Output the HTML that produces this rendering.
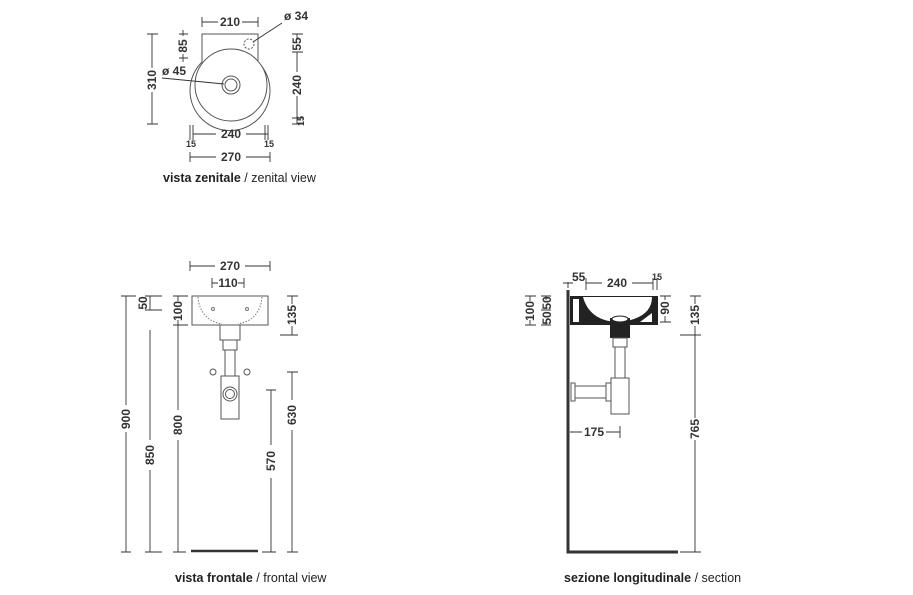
<!DOCTYPE html>
<html><head><meta charset="utf-8"><style>
html,body{margin:0;padding:0;background:#fff;}
svg{display:block;font-family:"Liberation Sans",sans-serif;}
.d{stroke:#333;stroke-width:0.9;fill:none}
.t{font-size:12px;font-weight:bold;fill:#333}
.s{font-size:9px;font-weight:bold;fill:#333}
.o{stroke:#555;stroke-width:1;fill:#fff}
</style></head><body>
<svg width="913" height="595" viewBox="0 0 913 595">
<!-- ===== TOP VIEW ===== -->
<path class="o" d="M202 34 H258 V62 A40 40 0 1 1 202 62 Z"/>
<circle cx="231" cy="85" r="36" class="o"/>
<circle cx="231" cy="85" r="9" class="o" stroke-width="1.3"/>
<circle cx="231" cy="85" r="6" class="o"/>
<circle cx="249" cy="44" r="5" fill="none" stroke="#555" stroke-dasharray="2,1.5"/>
<!-- 210 -->
<g class="d"><path d="M202 22 H218 M242 22 H258 M202 17 V27 M258 17 V27"/></g>
<text x="230" y="26" class="t" text-anchor="middle">210</text>
<text x="284" y="20" class="t">ø 34</text>
<path class="d" d="M282 23 L253 42"/>
<!-- 310 -->
<g class="d"><path d="M152 34 V68 M152 92 V124 M147 34 H158 M147 124 H158"/></g>
<text transform="translate(156,80) rotate(-90)" class="t" text-anchor="middle">310</text>
<!-- 85 -->
<g class="d"><path d="M183 30 V36 M183 54 V62 M179 34 H188 M179 58 H188"/></g>
<text transform="translate(187,46) rotate(-90)" class="t" text-anchor="middle">85</text>
<text x="162" y="75" class="t">ø 45</text>
<path class="d" d="M162 78 L224 84"/>
<!-- right -->
<g class="d"><path d="M297 34 V38 M297 52 V72 M297 96 V124 M292 34 H303 M292 52 H303 M292 118 H303 M292 124 H303"/></g>
<text transform="translate(301,44) rotate(-90)" class="t" text-anchor="middle">55</text>
<text transform="translate(301,85) rotate(-90)" class="t" text-anchor="middle">240</text>
<text transform="translate(304,121) rotate(-90)" class="s" text-anchor="middle">15</text>
<!-- bottom -->
<g class="d"><path d="M193 134 H216 M246 134 H268 M190 125 V140 M193 125 V140 M265 125 V140 M268 125 V140"/></g>
<text x="231" y="138" class="t" text-anchor="middle">240</text>
<text x="191" y="147" class="s" text-anchor="middle">15</text>
<text x="269" y="147" class="s" text-anchor="middle">15</text>
<g class="d"><path d="M190 157 H216 M246 157 H270 M190 152 V162 M270 152 V162"/></g>
<text x="231" y="161" class="t" text-anchor="middle">270</text>
<text x="163" y="182" font-size="12.5" fill="#222"><tspan font-weight="bold">vista zenitale</tspan> / zenital view</text>

<!-- ===== FRONT VIEW ===== -->
<rect x="192" y="296" width="76" height="29" class="o"/>
<path d="M198 297 Q200 320 222 324 M262 297 Q260 320 238 324" fill="none" stroke="#777" stroke-dasharray="1.5,1.5"/>
<circle cx="213" cy="309" r="1.5" fill="none" stroke="#777"/><circle cx="247" cy="309" r="1.5" fill="none" stroke="#777"/>
<rect x="220" y="325" width="20" height="15" class="o"/>
<rect x="223" y="340" width="14" height="10" class="o"/>
<rect x="225" y="350" width="10" height="26" class="o"/>
<rect x="221" y="376" width="18" height="43" class="o"/>
<circle cx="230" cy="394" r="7" class="o"/><circle cx="230" cy="394" r="4.5" class="o"/>
<circle cx="213" cy="372" r="3" class="o" stroke-width="1.5"/><circle cx="247" cy="372" r="3" class="o" stroke-width="1.5"/>
<g class="d">
<path d="M190 266 H215 M245 266 H270 M190 261 V271 M270 261 V271"/>
<path d="M212 283 H218 M238 283 H244 M212 278 V288 M244 278 V288"/>
<path d="M126 296 V405 M126 432 V552 M121 296 H136 M121 552 H131"/>
<path d="M150 296 V310 M150 330 V440 M150 470 V552 M145 296 H162 M145 310 H162 M145 552 H162"/>
<path d="M178 296 V301 M178 320 V410 M178 440 V552 M173 296 H188 M173 325 H188 M173 552 H186"/>
<path d="M292 296 V304 M292 326 V335 M287 296 H298 M280 335 H298 M292 372 V400 M292 430 V552 M287 372 H298 M287 552 H298"/>
<path d="M271 390 V445 M271 478 V552 M266 390 H276 M262 552 H276"/>
</g>
<line x1="191" y1="551" x2="258" y2="551" stroke="#333" stroke-width="2.5"/>
<text x="230" y="270" class="t" text-anchor="middle">270</text>
<text x="228" y="287" class="t" text-anchor="middle">110</text>
<text transform="translate(130,419) rotate(-90)" class="t" text-anchor="middle">900</text>
<text transform="translate(147,303) rotate(-90)" class="t" text-anchor="middle">50</text>
<text transform="translate(154,455) rotate(-90)" class="t" text-anchor="middle">850</text>
<text transform="translate(182,311) rotate(-90)" class="t" text-anchor="middle">100</text>
<text transform="translate(182,425) rotate(-90)" class="t" text-anchor="middle">800</text>
<text transform="translate(296,315) rotate(-90)" class="t" text-anchor="middle">135</text>
<text transform="translate(296,415) rotate(-90)" class="t" text-anchor="middle">630</text>
<text transform="translate(275,461) rotate(-90)" class="t" text-anchor="middle">570</text>
<text x="175" y="582" font-size="12.5" fill="#222"><tspan font-weight="bold">vista frontale</tspan> / frontal view</text>

<!-- ===== SECTION ===== -->
<path d="M568 290 V552 H678" fill="none" stroke="#333" stroke-width="3"/>
<path d="M570 296 H658 V325 H570 Z" fill="#222"/>
<rect x="573" y="299" width="6" height="23" fill="#fff"/>
<path d="M583 297 H652 Q652 318 620 322 Q590 322 583 297 Z" fill="#fff"/>
<path d="M640 322 L652 313 V322 Z" fill="#fff"/>
<rect x="610" y="318" width="20" height="20" fill="#222"/>
<ellipse cx="620" cy="319" rx="8" ry="3" fill="#fff" stroke="#222"/>
<rect x="613" y="338" width="14" height="9" class="o"/>
<rect x="615" y="347" width="10" height="31" class="o"/>
<rect x="611" y="378" width="18" height="36" class="o"/>
<rect x="575" y="386" width="32" height="12" class="o"/>
<rect x="571" y="383" width="4" height="18" class="o"/>
<rect x="606" y="383" width="5" height="18" class="o"/>
<g class="d">
<path d="M568 282 V288 M563 283 H573"/>
<path d="M586 283 H602 M632 283 H653 M586 278 V290 M653 278 V290 M657 278 V290"/>
<path d="M530 296 V301 M530 320 V325 M525 296 H536 M525 325 H536"/>
<path d="M546 296 V300 M546 321 V325 M541 296 H551 M541 310 H551 M541 325 H551"/>
<path d="M665 296 V300 M665 316 V322 M660 296 H671 M660 322 H671"/>
<path d="M695 296 V304 M695 326 V335 M690 296 H701 M680 335 H701 M695 335 V418 M695 440 V552 M680 552 H701"/>
<path d="M570 432 H582 M606 432 H620 M620 426 V438"/>
</g>
<text x="572" y="281" class="t">55</text>
<text x="617" y="287" class="t" text-anchor="middle">240</text>
<text x="652" y="280" class="s">15</text>
<text transform="translate(534,311) rotate(-90)" class="t" text-anchor="middle">100</text>
<text transform="translate(551,303) rotate(-90)" class="t" text-anchor="middle">50</text>
<text transform="translate(551,318) rotate(-90)" class="t" text-anchor="middle">50</text>
<text transform="translate(669,308) rotate(-90)" class="t" text-anchor="middle">90</text>
<text transform="translate(699,315) rotate(-90)" class="t" text-anchor="middle">135</text>
<text transform="translate(699,429) rotate(-90)" class="t" text-anchor="middle">765</text>
<text x="594" y="436" class="t" text-anchor="middle">175</text>
<text x="564" y="582" font-size="12.5" fill="#222"><tspan font-weight="bold">sezione longitudinale</tspan> / section</text>
</svg>
</body></html>
